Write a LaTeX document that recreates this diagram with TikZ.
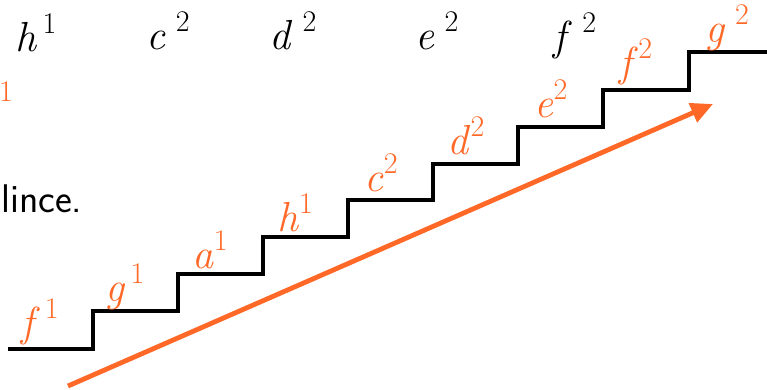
\documentclass[tikz,border=0pt]{standalone}
\usepackage{fontspec}
\usetikzlibrary{arrows.meta, positioning}
\definecolor{noteorange}{RGB}{255,104,38}
\newcommand{\notename}[2]{\textit{#1}\raisebox{0.42em}{\fontsize{30}{34}\selectfont#2}}

\begin{document}
\begin{tikzpicture}[
    x=1pt, y=-1pt, >=Triangle,
    stair/.style={draw, black, line width=3.2pt, line join=miter},
    orangenote/.style={text=noteorange, inner sep=0pt,
        font=\fontsize{42}{48}\selectfont},
    blacknote/.style={text=black, inner sep=0pt,
        font=\fontsize{42}{48}\selectfont}
  ]
  \useasboundingbox (0,0) rectangle (767,390);

  % staircase
  \draw[stair] (8,349) -- (93,349) -- (93,311) -- (178,311) -- (178,274)
    -- (263,274) -- (263,237) -- (348,237) -- (348,200) -- (433,200)
    -- (433,164) -- (518,164) -- (518,127) -- (603,127) -- (603,90)
    -- (689,90) -- (689,52) -- (767,52);

  % notes on the steps
  \node[orangenote] (f1) at (40,322) {\notename{f}{\,1}};
  \node[orangenote] (g1) at (125,287) {\notename{g}{\,1}};
  \node[orangenote] (a1) at (210,250) {\notename{a}{1}};
  \node[orangenote] (h1) at (295,213) {\notename{h}{1}};
  \node[orangenote] (c2) at (381,173) {\notename{c}{2}};
  \node[orangenote] (d2) at (466,136) {\notename{d}{2}};
  \node[orangenote] (e2) at (551,99) {\notename{e}{2}};
  \node[orangenote] (f2) at (636,62) {\notename{f}{2}};
  \node[orangenote] (g2) at (727,28) {\notename{g}{\,\,2}};
  \node[orangenote, font=\fontsize{30}{34}\selectfont] (cut1) at (6,92) {1};

  % notes in the top row
  \node[blacknote] (toph1) at (36,33) {\notename{h}{\,1}};
  \node[blacknote] (topc2) at (168,31) {\notename{c}{\,\,2}};
  \node[blacknote] (topd2) at (293,31) {\notename{d}{\,\,2}};
  \node[blacknote] (tope2) at (437,31) {\notename{e}{\,\,2}};
  \node[blacknote] (topf2) at (575,36) {\notename{f}{\,\,2}};

  \node[anchor=base west, inner sep=0pt, font=\fontsize{40}{46}\selectfont\sffamily]
    (lince) at (1,212) {lince.};

  % rising line
  \coordinate (riseA) at (68,386);
  \coordinate (riseB) at (713,104);
  \draw[noteorange, line width=4.8pt,
        -{Triangle[length=22pt, width=20pt]}] (riseA) -- (riseB);
\end{tikzpicture}
\end{document}
